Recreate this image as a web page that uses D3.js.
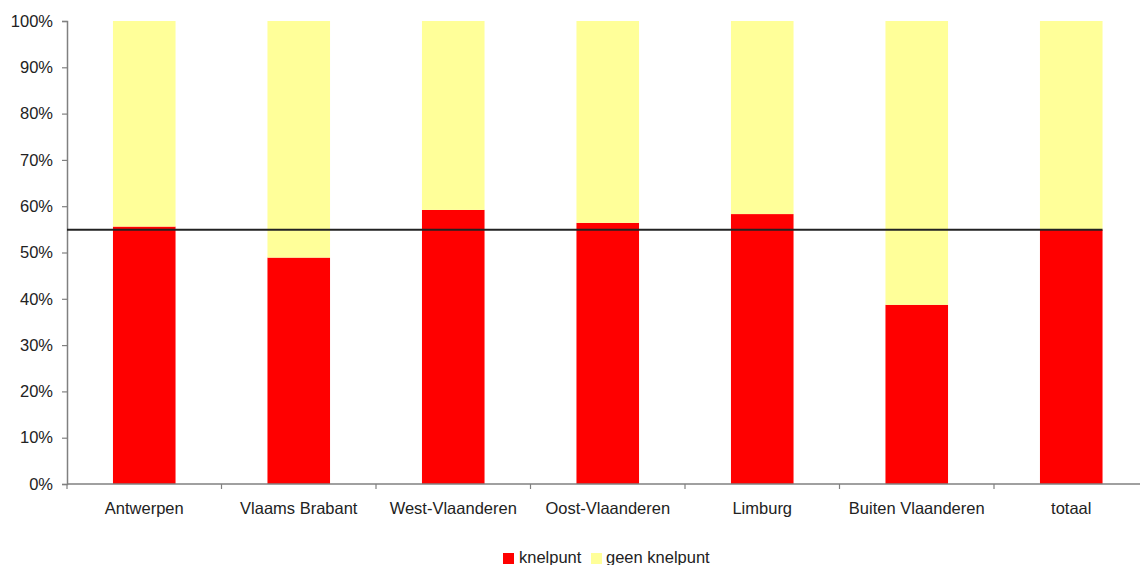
<!DOCTYPE html>
<html>
<head>
<meta charset="utf-8">
<script src="https://cdn.jsdelivr.net/npm/d3@7"></script>
<style>
  html, body { margin: 0; padding: 0; background: #fff; }
  svg { display: block; font-family: "Liberation Sans", Arial, sans-serif; }
</style>
</head>
<body>
<svg id="chart" width="1140" height="565"></svg>
<script>
const categories = ["Antwerpen", "Vlaams Brabant", "West-Vlaanderen", "Oost-Vlaanderen", "Limburg", "Buiten Vlaanderen", "totaal"];
const knelpunt = [55.6, 48.9, 59.2, 56.4, 58.3, 38.7, 54.9];
const geenKnelpunt = knelpunt.map(v => 100 - v);
const referenceValue = 54.9;
const yTicks = [0, 10, 20, 30, 40, 50, 60, 70, 80, 90, 100];
const seriesNames = ["knelpunt", "geen knelpunt"];
const seriesColors = ["#ff0000", "#ffff99"];

const svg = d3.select("#chart");
const mLeft = 67, mRight = 1148.5, mTop = 21, mBottom = 484;

const x = d3.scaleBand().domain(categories).range([mLeft, mRight]).padding(0);
const y = d3.scaleLinear().domain([0, 100]).range([mBottom, mTop]);
const barW = x.step() * 0.405;

const rows = categories.map((c, i) => ({ cat: c, knelpunt: knelpunt[i], geen: geenKnelpunt[i] }));
const stack = d3.stack().keys(["knelpunt", "geen"])(rows);

stack.forEach((layer, li) => {
  svg.append("g").selectAll("rect").data(layer).join("rect")
    .attr("x", d => x(d.data.cat) + x.bandwidth() / 2 - barW / 2)
    .attr("width", barW)
    .attr("y", d => y(d[1]))
    .attr("height", d => y(d[0]) - y(d[1]))
    .attr("fill", seriesColors[li]);
});

// Y axis
const yAxis = d3.axisLeft(y).tickValues(yTicks).tickFormat(d => d + "%").tickSize(5).tickPadding(9);
const gy = svg.append("g").attr("transform", `translate(${mLeft},0)`).call(yAxis);
gy.select(".domain").attr("stroke", "#808080").attr("stroke-width", 1.5);
gy.selectAll(".tick line").attr("stroke", "#808080").attr("stroke-width", 1.2);
gy.selectAll(".tick text").attr("font-size", "16.5px").attr("fill", "#222").attr("font-family", "Liberation Sans, Arial, sans-serif");

// X axis
const xTickScale = d3.scaleLinear().domain([0, categories.length]).range([mLeft, mRight]);
const gx = svg.append("g").attr("transform", `translate(0,${mBottom})`);
gx.append("line").attr("x1", mLeft).attr("x2", mRight).attr("stroke", "#808080").attr("stroke-width", 1.5);
gx.selectAll("line.tk").data(d3.range(categories.length + 1)).join("line").attr("class", "tk")
  .attr("x1", d => xTickScale(d)).attr("x2", d => xTickScale(d))
  .attr("y1", 0).attr("y2", 5).attr("stroke", "#808080").attr("stroke-width", 1.2);
gx.selectAll("text").data(categories).join("text")
  .attr("x", d => x(d) + x.bandwidth() / 2)
  .attr("y", 30)
  .attr("text-anchor", "middle")
  .attr("font-size", "16.5px")
  .attr("fill", "#222")
  .text(d => d);

// Reference line
const lastCat = categories[categories.length - 1];
svg.append("line")
  .attr("x1", mLeft)
  .attr("x2", x(lastCat) + x.bandwidth() / 2 + barW / 2)
  .attr("y1", y(referenceValue)).attr("y2", y(referenceValue))
  .attr("stroke", "#222").attr("stroke-width", 2);

// Legend
const legendItems = [
  { name: seriesNames[0], color: seriesColors[0], sx: 503, tx: 519 },
  { name: seriesNames[1], color: seriesColors[1], sx: 591, tx: 606 }
];
const lg = svg.append("g");
legendItems.forEach(it => {
  lg.append("rect").attr("x", it.sx).attr("y", 553).attr("width", 11).attr("height", 11).attr("fill", it.color);
  lg.append("text").attr("x", it.tx).attr("y", 563).attr("font-size", "16.5px").attr("fill", "#222").text(it.name);
});
</script>
</body>
</html>
